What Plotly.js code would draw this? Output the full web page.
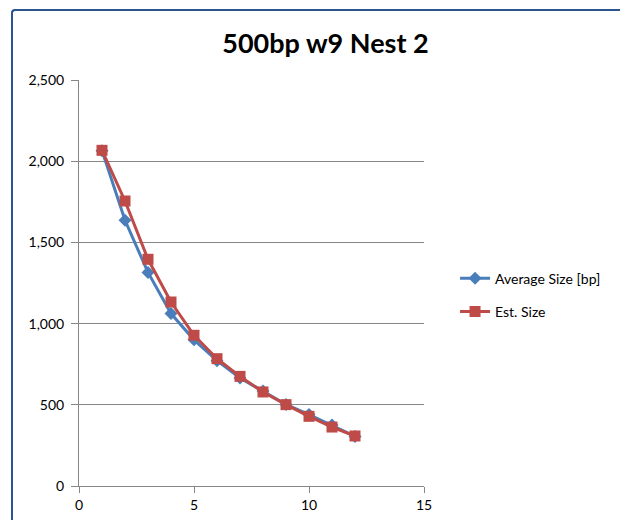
<!DOCTYPE html>
<html>
<head>
<meta charset="utf-8">
<script src="https://cdn.plot.ly/plotly-3.0.1.min.js"></script>
<style>
html,body{margin:0;padding:0;background:#fff;}
#wrap{position:relative;width:620px;height:520px;overflow:hidden;}
#frame{position:absolute;left:11px;top:9px;width:700px;height:600px;border-left:2px solid #2B5591;border-top:2px solid #2B5591;border-top-left-radius:4px;}
#chart{position:absolute;left:0;top:0;width:620px;height:520px;}
</style>
</head>
<body>
<div id="wrap"><div id="frame"></div><div id="chart"></div></div>
<script>
const xValues = [1, 2, 3, 4, 5, 6, 7, 8, 9, 10, 11, 12];
const averageSize = [2065, 1636, 1315, 1062, 900, 772, 665, 585, 502, 440, 375, 305];
const estSize = [2067, 1755, 1396, 1133, 928, 784, 675, 579, 501, 429, 363, 308];
const seriesNames = ["Average Size [bp]", "Est. Size"];
const titleText = "500bp w9 Nest 2";

const font = "Lato, 'Open Sans', sans-serif";

const traces = [
  {
    x: xValues, y: averageSize, name: seriesNames[0], type: "scatter", mode: "lines+markers",
    legendgroup: "a",
    line: {color: "#4A7EBB", width: 3},
    marker: {symbol: "diamond", size: 10, color: "#4A7EBB"}
  },
  {
    x: xValues, y: estSize, name: seriesNames[1], type: "scatter", mode: "lines+markers",
    legendgroup: "b",
    line: {color: "#BE4B48", width: 3},
    marker: {symbol: "square", size: 11, color: "#BE4B48"}
  }
];

const layout = {
  width: 620, height: 520,
  paper_bgcolor: "rgba(0,0,0,0)", plot_bgcolor: "rgba(0,0,0,0)",
  margin: {l: 79, r: 196, t: 80, b: 34},
  title: {text: "<b>" + titleText + "</b>", font: {family: font, size: 27, color: "#000"}, x: 0.525, xanchor: "center", y: 0.917, yanchor: "middle"},
  showlegend: true,
  legend: {x: 1.09, y: 0.47, xanchor: "left", yanchor: "middle", font: {family: font, size: 14, color: "#000"}, tracegroupgap: 12, itemwidth: 30, bgcolor: "rgba(0,0,0,0)"},
  xaxis: {
    range: [0, 15], tickvals: [0, 5, 10, 15], showgrid: false, zeroline: false,
    showline: true, linecolor: "#868686", linewidth: 1,
    ticks: "outside", ticklen: 6, tickcolor: "#868686",
    tickfont: {family: font, size: 14, color: "#000"}
  },
  yaxis: {
    range: [0, 2500], tickvals: [0, 500, 1000, 1500, 2000, 2500], tickformat: ",",
    showgrid: true, gridcolor: "#868686", gridwidth: 1, zeroline: false,
    showline: true, linecolor: "#868686", linewidth: 1,
    ticks: "outside", ticklen: 7, tickcolor: "#868686", ticklabelstandoff: 4,
    tickfont: {family: font, size: 14, color: "#000"}
  },
  font: {family: font}
};

Plotly.newPlot("chart", traces, layout, {displayModeBar: false, staticPlot: true});
</script>
</body>
</html>
